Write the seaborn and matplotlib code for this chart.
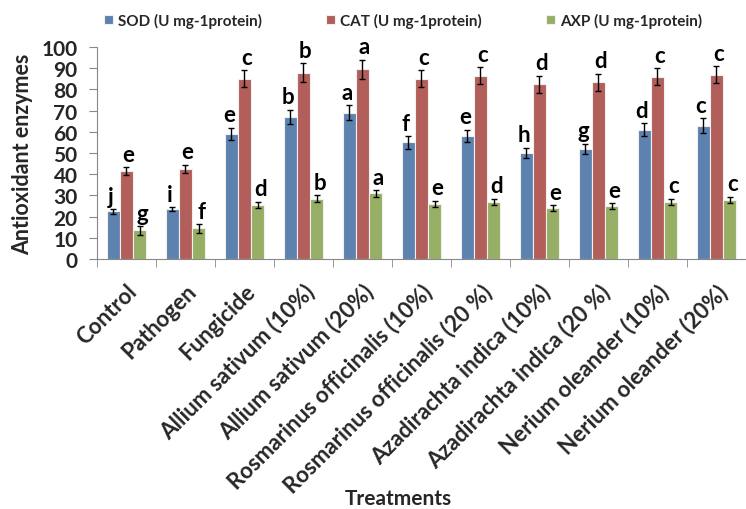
import numpy as np
import pandas as pd
import matplotlib
matplotlib.use("Agg")
import matplotlib.pyplot as plt
import seaborn as sns

treatments = ['Control', 'Pathogen', 'Fungicide',
              'Allium sativum (10%)', 'Allium sativum (20%)',
              'Rosmarinus officinalis (10%)', 'Rosmarinus officinalis (20 %)',
              'Azadirachta indica (10%)', 'Azadirachta indica (20 %)',
              'Nerium oleander (10%)', 'Nerium oleander (20%)']
series = ['SOD (U mg-1protein)', 'CAT (U mg-1protein)', 'AXP (U mg-1protein)']

sod = [22.5, 23.5, 59, 67, 69, 55, 58, 50, 52, 61, 63]
cat = [41.5, 42.5, 85, 88, 89.5, 85, 86.5, 82.5, 83.5, 86, 87]
axp = [13.5, 14.5, 25.5, 28.5, 31, 26, 27, 24, 25, 27, 28]

sod_err = [1, 1, 3, 3.5, 3.5, 3, 3, 2.5, 2.5, 3, 3.5]
cat_err = [2, 2, 4, 4.5, 4.5, 4, 4, 4, 4, 4, 4]
axp_err = [2, 2, 1.5, 1.5, 1.5, 1.5, 1.5, 1.5, 1.5, 1.5, 1.5]

sod_letters = ['j', 'i', 'e', 'b', 'a', 'f', 'e', 'h', 'g', 'd', 'c']
cat_letters = ['e', 'e', 'c', 'b', 'a', 'c', 'c', 'd', 'd', 'c', 'c']
axp_letters = ['g', 'f', 'd', 'b', 'a', 'e', 'd', 'e', 'e', 'c', 'c']

colors = ['#4F81BD', '#C0504D', '#9BBB59']

df = pd.DataFrame({
    'Treatment': treatments * 3,
    'Enzyme': [series[0]] * 11 + [series[1]] * 11 + [series[2]] * 11,
    'Value': sod + cat + axp,
})

sns.set_style("white")
plt.rcParams['font.family'] = ['Lato', 'DejaVu Sans']
plt.rcParams['font.weight'] = 'bold'

fig = plt.figure(figsize=(7.46, 5.10), dpi=100)
ax = fig.add_axes([0.130, 0.490, 0.870, 0.4157])

sns.barplot(data=df, x='Treatment', y='Value', hue='Enzyme',
            order=treatments, hue_order=series, palette=colors,
            width=0.67, edgecolor='#f0f0f0', linewidth=0.8,
            errorbar=None, ax=ax)

errs = [sod_err, cat_err, axp_err]
vals = [sod, cat, axp]
letters = [sod_letters, cat_letters, axp_letters]
shifts = [-0.04, 0.03, 0.05]
bar_groups = list(ax.containers)
for k, cont in enumerate(bar_groups):
    xs = [p.get_x() + p.get_width() / 2 for p in cont.patches]
    ax.errorbar(xs, vals[k], yerr=errs[k], fmt='none', ecolor='black',
                elinewidth=1, capsize=2.5, capthick=1)
    for x, v, e, t in zip(xs, vals[k], errs[k], letters[k]):
        ax.text(x + shifts[k], v + e + 3, t, ha='center', va='baseline',
                fontsize=16, fontweight='bold', color='black')

ax.set_ylim(0, 100)
ax.set_xlim(-0.5, -0.5 + 649 / 60)
ax.set_yticks(range(0, 101, 10))
ax.tick_params(axis='y', labelsize=15, length=6, color='#888888', pad=8, left=True)
ax.set_xticks(np.arange(len(treatments)))
ax.set_xticklabels(treatments, rotation=45, ha='right', rotation_mode='anchor',
                   fontsize=16, fontweight='bold')
ax.tick_params(axis='x', which='major', length=0, pad=15)
ax.set_xticks(np.arange(len(treatments) + 1) - 0.5, minor=True)
ax.tick_params(axis='x', which='minor', length=6, color='#888888', bottom=True)
for lab in ax.get_yticklabels():
    lab.set_fontweight('bold')

ax.set_ylabel('Antioxidant enzymes', fontsize=15.5, fontweight='bold', labelpad=6)
ax.set_xlabel('Treatments', fontsize=15, fontweight='bold')
ax.xaxis.set_label_coords(0.465, -1.08)

sns.despine(ax=ax)
for s in ['left', 'bottom']:
    ax.spines[s].set_color('#888888')
    ax.spines[s].set_linewidth(0.8)

ax.legend(loc='upper center', bbox_to_anchor=(403 / 746, 1.0), bbox_transform=fig.transFigure,
          ncol=3, frameon=False, handlelength=0.6, handleheight=0.6, handletextpad=0.3,
          columnspacing=4.2, prop={'size': 11, 'weight': 'bold'})

fig.savefig('out.png', dpi=100)
